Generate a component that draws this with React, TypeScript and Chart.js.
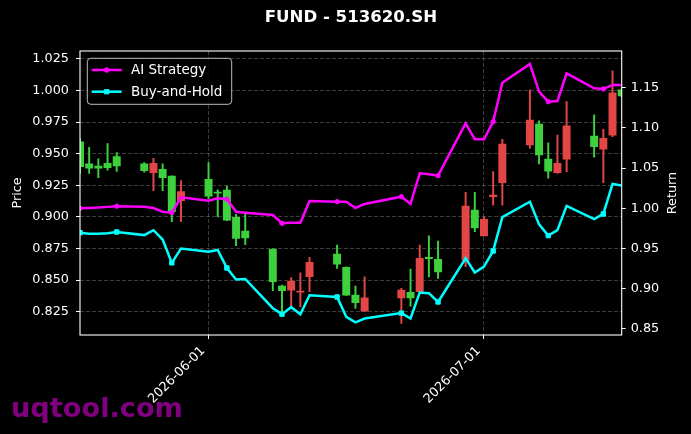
import React, { useEffect, useRef } from 'react';
import { Chart, registerables } from 'chart.js';

Chart.register(...registerables);

const TITLE = 'FUND - 513620.SH';

const DATES = [
  '2026-05-18', '2026-05-19', '2026-05-20', '2026-05-21', '2026-05-22',
  '2026-05-25', '2026-05-26', '2026-05-27', '2026-05-28', '2026-05-29',
  '2026-06-01', '2026-06-02', '2026-06-03', '2026-06-04', '2026-06-05',
  '2026-06-08', '2026-06-09', '2026-06-10', '2026-06-11', '2026-06-12',
  '2026-06-15', '2026-06-16', '2026-06-17', '2026-06-18',
  '2026-06-22', '2026-06-23', '2026-06-24', '2026-06-25', '2026-06-26',
  '2026-06-29', '2026-06-30', '2026-07-01', '2026-07-02', '2026-07-03',
  '2026-07-06', '2026-07-07', '2026-07-08', '2026-07-09', '2026-07-10',
  '2026-07-13', '2026-07-14', '2026-07-15', '2026-07-16',
];

const OPEN = [
  0.9595, 0.942, 0.9403, 0.9424, 0.9477,
  0.942, 0.935, 0.9377, 0.9324, 0.9128,
  0.9298, 0.9197, 0.9213, 0.8997, 0.8888,
  0.8745, 0.8453, 0.8421, 0.8405, 0.8527,
  0.8706, 0.8601, 0.8382, 0.8255,
  0.836, 0.8403, 0.8408, 0.868, 0.8664,
  0.8659, 0.9054, 0.8849, 0.9161, 0.9271,
  0.9569, 0.9735, 0.9458, 0.935, 0.9458,
  0.964, 0.9537, 0.9648, 1.0005,
];
const HIGH = [
  0.962, 0.955, 0.946, 0.958, 0.951,
  0.943, 0.9464, 0.942, 0.9326, 0.9287,
  0.943, 0.9215, 0.9245, 0.902, 0.902,
  0.8748, 0.846, 0.852, 0.8558, 0.868,
  0.8777, 0.8605, 0.8453, 0.8527,
  0.8435, 0.8588, 0.8777, 0.885, 0.881,
  0.9195, 0.9195, 0.9, 0.9358, 0.9614,
  1.0005, 0.976, 0.9587, 0.9648, 0.9912,
  0.9807, 0.9693, 1.0157, 1.002,
];
const LOW = [
  0.9345, 0.9345, 0.931, 0.937, 0.936,
  0.9355, 0.9207, 0.9207, 0.8962, 0.8962,
  0.9145, 0.9, 0.897, 0.8772, 0.878,
  0.8416, 0.825, 0.829, 0.8289, 0.8408,
  0.8593, 0.838, 0.8276, 0.8255,
  0.8158, 0.8295, 0.8408, 0.8526, 0.8514,
  0.8606, 0.8883, 0.8849, 0.9094, 0.9094,
  0.9543, 0.9419, 0.9306, 0.9345, 0.9358,
  0.9472, 0.9271, 0.9635, 0.995,
];
const CLOSE = [
  0.9397, 0.9385, 0.9385, 0.939, 0.9403,
  0.9366, 0.9424, 0.931, 0.9041, 0.92,
  0.9165, 0.9188, 0.8975, 0.8831, 0.8835,
  0.8487, 0.8416, 0.8492, 0.8414, 0.8641,
  0.8627, 0.8381, 0.8321, 0.836,
  0.8421, 0.836, 0.8672, 0.867, 0.8566,
  0.9086, 0.8914, 0.8981, 0.9173, 0.9577,
  0.9767, 0.949, 0.9363, 0.9424, 0.972,
  0.9556, 0.9622, 0.9983, 0.9957,
];

const AI_STRATEGY = [
  1.0, 1.0004, 1.0009, 1.0018, 1.0027,
  1.002, 1.0003, 0.9958, 0.9946, 1.0137,
  1.0095, 1.0125, 1.0113, 0.9958, 0.9946,
  0.9917, 0.9814, 0.9822, 0.9822, 1.0091,
  1.0083, 1.0083, 1.0004, 1.0054,
  1.0145, 1.0054, 1.0436, 1.0423, 1.0406,
  1.1057, 1.0859, 1.0859, 1.1077, 1.1562,
  1.1795, 1.145, 1.1326, 1.1335, 1.1679,
  1.1493, 1.1484, 1.1534, 1.1534,
];
const BUY_AND_HOLD = [
  0.9697, 0.9685, 0.9684, 0.969, 0.9706,
  0.9667, 0.9728, 0.9612, 0.9322, 0.9499,
  0.946, 0.9482, 0.9258, 0.9116, 0.9122,
  0.8758, 0.8684, 0.8771, 0.8683, 0.892,
  0.8898, 0.8651, 0.8583, 0.863,
  0.8697, 0.863, 0.8953, 0.8945, 0.8836,
  0.9378, 0.9202, 0.9276, 0.947, 0.989,
  1.0082, 0.98, 0.9661, 0.9728, 1.003,
  0.9865, 0.993, 1.0302, 1.0283,
];

const PRICE_TICKS = [0.825, 0.85, 0.875, 0.9, 0.925, 0.95, 0.975, 1.0, 1.025];
const RETURN_TICKS = [0.85, 0.9, 0.95, 1.0, 1.05, 1.1, 1.15];
const DATE_TICKS = ['2026-06-01', '2026-07-01'];

const DAY_MS = 86400000;
const toDay = (s: string) => {
  const [y, m, d] = s.split('-').map(Number);
  return Date.UTC(y, m - 1, d) / DAY_MS;
};
const fromDay = (v: number) => new Date(Math.round(v) * DAY_MS).toISOString().slice(0, 10);

const FONT = 'DejaVu Sans';
const UP_COLOR = '#e34646';
const DOWN_COLOR = '#3dd13d';
const AI_COLOR = '#ff00ff';
const BH_COLOR = '#00ffff';
const GRID_COLOR = 'rgba(150,150,150,0.5)';
const TEXT_COLOR = '#ffffff';

const framePlugin = {
  id: 'frame',
  afterDatasetsDraw(chart: any) {
    const { ctx, chartArea: a } = chart;
    ctx.save();
    ctx.strokeStyle = '#ffffff';
    ctx.lineWidth = 1.1;
    ctx.strokeRect(a.left, a.top, a.right - a.left, a.bottom - a.top);
    ctx.restore();
  },
};

const overlayPlugin = {
  id: 'overlay',
  afterDraw(chart: any) {
    const { ctx, chartArea: a } = chart;
    ctx.save();
    // legend box
    const x0 = a.left + 7.3;
    const y0 = a.top + 7.3;
    const w = 144.4;
    const h = 46;
    ctx.beginPath();
    ctx.roundRect(x0, y0, w, h, 3.5);
    ctx.fillStyle = 'rgba(0,0,0,0.8)';
    ctx.fill();
    ctx.strokeStyle = 'rgba(210,210,210,0.9)';
    ctx.lineWidth = 1;
    ctx.stroke();
    const lines = chart.data.datasets.filter((d: any) => d.type === 'line');
    lines.forEach((ds: any, i: number) => {
      const cy = y0 + 11.7 + i * 21.7;
      const lx0 = x0 + 4.4;
      const lx1 = x0 + 34.4;
      const cx = (lx0 + lx1) / 2;
      ctx.strokeStyle = ds.borderColor;
      ctx.lineWidth = ds.borderWidth;
      ctx.beginPath();
      ctx.moveTo(lx0, cy);
      ctx.lineTo(lx1, cy);
      ctx.stroke();
      ctx.fillStyle = ds.borderColor;
      if (ds.pointStyle === 'rect') {
        ctx.fillRect(cx - 2.6, cy - 2.6, 5.2, 5.2);
      } else {
        ctx.beginPath();
        ctx.arc(cx, cy, 2.7, 0, Math.PI * 2);
        ctx.fill();
      }
      ctx.fillStyle = TEXT_COLOR;
      ctx.font = `13.5px "${FONT}"`;
      ctx.textAlign = 'left';
      ctx.textBaseline = 'middle';
      ctx.fillText(ds.label, x0 + 43.7, cy + 0.5);
    });
    // right axis title
    const y1 = chart.scales.y1;
    ctx.save();
    ctx.translate(y1.right - 18.5, (a.top + a.bottom) / 2);
    ctx.rotate(-Math.PI / 2);
    ctx.fillStyle = TEXT_COLOR;
    ctx.font = `12.8px "${FONT}"`;
    ctx.textAlign = 'center';
    ctx.textBaseline = 'middle';
    ctx.fillText('Return', 0, 0);
    ctx.restore();
    // watermark
    ctx.fillStyle = '#800080';
    ctx.font = `bold 27.2px "${FONT}"`;
    ctx.textAlign = 'left';
    ctx.textBaseline = 'alphabetic';
    ctx.fillText('uqtool.com', 11, 416.5);
    ctx.restore();
  },
};

export default function App() {
  const ref = useRef<HTMLCanvasElement>(null);

  useEffect(() => {
    document.body.style.margin = '0';
    document.body.style.background = '#000';
    const xs = DATES.map(toDay);
    const candleColors = OPEN.map((o, i) => (CLOSE[i] >= o ? UP_COLOR : DOWN_COLOR));
    const tickFont = { family: FONT, size: 12.8 };

    const chart = new Chart(ref.current as HTMLCanvasElement, {
      type: 'line',
      data: {
        datasets: [
          {
            type: 'line',
            label: 'AI Strategy',
            data: xs.map((x, i) => ({ x, y: AI_STRATEGY[i] })),
            yAxisID: 'y1',
            borderColor: AI_COLOR,
            backgroundColor: AI_COLOR,
            borderWidth: 2.5,
            pointStyle: 'circle',
            pointRadius: (c: any) => (c.dataIndex % 4 === 0 ? 2.2 : 0),
            pointBorderWidth: 1,
            tension: 0,
            order: 1,
          } as any,
          {
            type: 'line',
            label: 'Buy-and-Hold',
            data: xs.map((x, i) => ({ x, y: BUY_AND_HOLD[i] })),
            yAxisID: 'y1',
            borderColor: BH_COLOR,
            backgroundColor: BH_COLOR,
            borderWidth: 2.5,
            pointStyle: 'rect',
            pointRadius: (c: any) => (c.dataIndex % 4 === 0 ? 3.1 : 0),
            pointBorderWidth: 1,
            tension: 0,
            order: 0,
          } as any,
          {
            type: 'bar',
            label: 'body',
            data: xs.map((x, i) => ({ x, y: [OPEN[i], CLOSE[i]] })),
            yAxisID: 'y',
            backgroundColor: candleColors,
            borderWidth: 0,
            barThickness: 7.3,
            grouped: false,
            order: 2,
          } as any,
          {
            type: 'bar',
            label: 'wick',
            data: xs.map((x, i) => ({ x, y: [LOW[i], HIGH[i]] })),
            yAxisID: 'y',
            backgroundColor: candleColors,
            borderWidth: 0,
            barThickness: 1.3,
            grouped: false,
            order: 3,
          } as any,
        ],
      },
      options: {
        responsive: false,
        animation: false,
        events: [],
        layout: { padding: 0 },
        plugins: {
          legend: { display: false },
          tooltip: { enabled: false },
          title: {
            display: true,
            text: TITLE,
            color: TEXT_COLOR,
            fullSize: false,
            font: { family: FONT, size: 16.6, weight: 'bold' },
            padding: { top: 8, bottom: 23.08 },
          },
        },
        scales: {
          x: {
            type: 'linear',
            min: toDay(DATES[0]),
            max: toDay(DATES[DATES.length - 1]),
            bounds: 'data',
            offset: false,
            afterBuildTicks: (s: any) => {
              s.ticks = DATE_TICKS.map((d) => ({ value: toDay(d) }));
            },
            afterFit: (s: any) => {
              s.height = 99;
            },
            ticks: {
              callback: (v: any) => fromDay(Number(v)),
              color: TEXT_COLOR,
              font: tickFont,
              minRotation: 45,
              maxRotation: 45,
              autoSkip: false,
              padding: 4.4,
              labelOffset: -5.3,
            },
            grid: {
              offset: false,
              color: GRID_COLOR,
              lineWidth: 0.8,
              tickColor: '#ffffff',
              tickLength: 4,
              tickWidth: 1,
            },
            border: { display: false, dash: [4, 2] },
          } as any,
          y: {
            type: 'linear',
            position: 'left',
            min: 0.8066,
            max: 1.0313,
            bounds: 'data',
            afterBuildTicks: (s: any) => {
              s.ticks = PRICE_TICKS.map((v) => ({ value: v }));
            },
            afterFit: (s: any) => {
              s.width = 80;
            },
            ticks: {
              callback: (v: any) => Number(v).toFixed(3),
              color: TEXT_COLOR,
              font: tickFont,
              padding: 7,
            },
            grid: {
              offset: false,
              color: GRID_COLOR,
              lineWidth: 0.8,
              tickColor: '#ffffff',
              tickLength: 4,
              tickWidth: 1,
            },
            border: { display: false, dash: [4, 2] },
            title: {
              display: true,
              text: 'Price',
              color: TEXT_COLOR,
              font: tickFont,
              padding: { top: 9.8, bottom: 0 },
            },
          } as any,
          y1: {
            type: 'linear',
            position: 'right',
            min: 0.8425,
            max: 1.1956,
            bounds: 'data',
            afterBuildTicks: (s: any) => {
              s.ticks = RETURN_TICKS.map((v) => ({ value: v }));
            },
            afterFit: (s: any) => {
              s.width = 69.3;
            },
            ticks: {
              callback: (v: any) => Number(v).toFixed(2),
              color: TEXT_COLOR,
              font: tickFont,
              padding: 5,
            },
            grid: {
              offset: false,
              drawOnChartArea: false,
              tickColor: '#ffffff',
              tickLength: 4,
              tickWidth: 1,
            },
            border: { display: false },
          } as any,
        },
      },
      plugins: [framePlugin, overlayPlugin],
    });
    return () => chart.destroy();
  }, []);

  return (
    <div style={{ position: 'absolute', left: 0, top: 0, width: 691, height: 434, background: '#000' }}>
      <canvas ref={ref} width={691} height={434} style={{ display: 'block', width: 691, height: 434 }} />
    </div>
  );
}
